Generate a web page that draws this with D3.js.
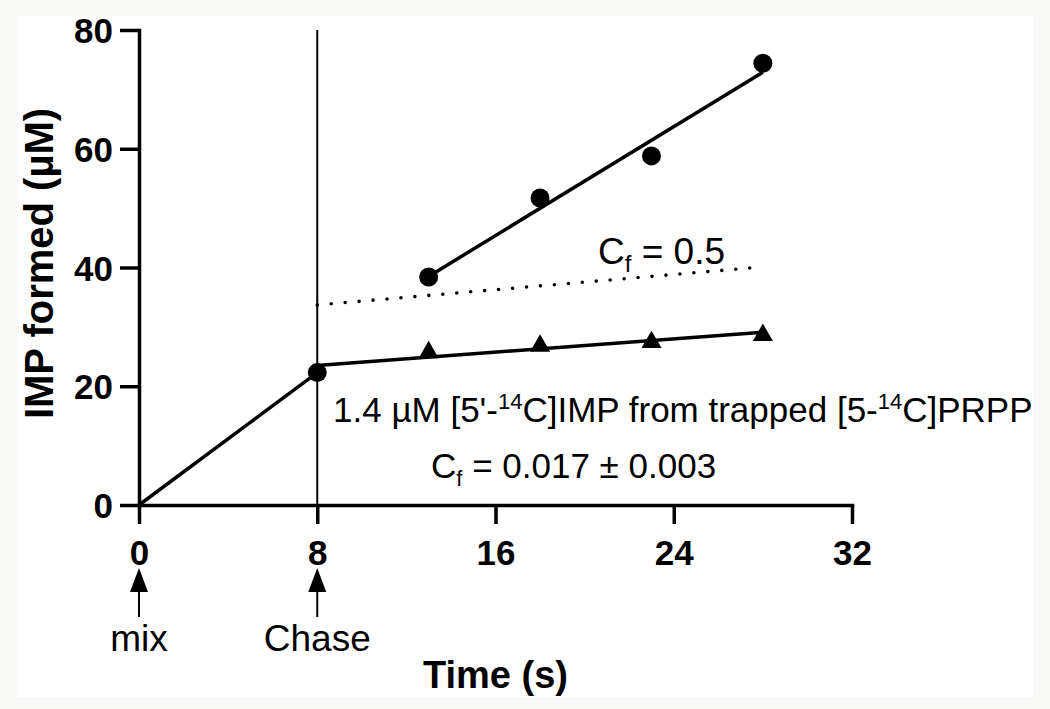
<!DOCTYPE html>
<html>
<head>
<meta charset="utf-8">
<script src="https://cdn.jsdelivr.net/npm/d3@7"></script>
<style>
  html, body { margin: 0; padding: 0; background: #f8f8f6; }
  svg { display: block; }
  text { font-family: "Liberation Sans", Arial, Helvetica, sans-serif; fill: #000; }
</style>
</head>
<body>
<svg id="chart" width="1050" height="709"></svg>
<script>
// ---- data ----
const xTicks = [0, 8, 16, 24, 32];
const yTicks = [0, 20, 40, 60, 80];
// IMP formed (circles): pre-chase and after chase
const circleTime = [8, 13, 18, 23, 28];
const circleIMP  = [22.3, 38.4, 51.7, 58.8, 74.4];
// triangles: after chase
const triTime = [13, 18, 23, 28];
const triIMP  = [25.7, 26.8, 27.4, 28.6];
// drawn lines
const mixLine    = [[0, 0], [8, 22.3]];
const upperFit   = [[13, 38.5], [28, 72.9]];
const lowerFit   = [[8, 23.5], [28, 29.1]];
const cfHalfLine = [[8, 33.7], [28, 40.1]];
const chaseTime = 8;
const markers = [{t: 0, label: "mix"}, {t: 8, label: "Chase"}];

const svg = d3.select("#chart");
// inner white panel (image frame)
svg.append("rect").attr("x", 18).attr("y", 16).attr("width", 1015).attr("height", 681).attr("fill", "#ffffff");

const x = d3.scaleLinear().domain([0, 32]).range([139, 852]);
const y = d3.scaleLinear().domain([0, 80]).range([505, 30]);
const line = d3.line().x(d => x(d[0])).y(d => y(d[1]));

// vertical chase line
svg.append("line")
  .attr("x1", x(chaseTime)).attr("x2", x(chaseTime))
  .attr("y1", y(80)).attr("y2", y(0))
  .attr("stroke", "#000").attr("stroke-width", 2);

// axes
const yAxis = d3.axisLeft(y).tickValues(yTicks).tickSize(19).tickPadding(7).tickSizeOuter(0);
const xAxis = d3.axisBottom(x).tickValues(xTicks).tickSize(19).tickPadding(16).tickSizeOuter(0);

const gy = svg.append("g").attr("transform", `translate(${x(0)},0)`).call(yAxis);
const gx = svg.append("g").attr("transform", `translate(0,${y(0)})`).call(xAxis);
[gx, gy].forEach(g => {
  g.select(".domain").attr("stroke", "#000").attr("stroke-width", 3.5).attr("stroke-linecap", "square");
  g.selectAll(".tick line").attr("stroke", "#000").attr("stroke-width", 3.5);
  g.selectAll(".tick text")
    .attr("font-family", "Liberation Sans, Arial, sans-serif")
    .attr("font-size", 35).attr("font-weight", "bold").attr("fill", "#000");
});
gy.selectAll(".tick text").attr("dy", "0.36em");

// lines
svg.append("path").datum(mixLine).attr("d", line).attr("fill", "none").attr("stroke", "#000").attr("stroke-width", 3.5);
svg.append("path").datum(upperFit).attr("d", line).attr("fill", "none").attr("stroke", "#000").attr("stroke-width", 3.5);
svg.append("path").datum(lowerFit).attr("d", line).attr("fill", "none").attr("stroke", "#000").attr("stroke-width", 3.5);
svg.append("path").datum(cfHalfLine).attr("d", line).attr("fill", "none").attr("stroke", "#000")
  .attr("stroke-width", 3.6).attr("stroke-linecap", "round").attr("stroke-dasharray", "0,14");

// circles
svg.selectAll("circle.pt").data(circleTime.map((t, i) => [t, circleIMP[i]])).enter()
  .append("circle").attr("class", "pt")
  .attr("cx", d => x(d[0])).attr("cy", d => y(d[1])).attr("r", 9.5).attr("fill", "#000");

// triangles
const tri = d3.symbol().type(d3.symbolTriangle).size(175);
svg.selectAll("path.tri").data(triTime.map((t, i) => [t, triIMP[i]])).enter()
  .append("path").attr("class", "tri")
  .attr("transform", d => `translate(${x(d[0])},${y(d[1])})`)
  .attr("d", tri).attr("fill", "#000");

// axis titles
svg.append("text").attr("transform", `translate(53,${(y(0) + y(80)) / 2 - 4}) rotate(-90)`)
  .attr("text-anchor", "middle").attr("font-size", 40).attr("font-weight", "bold")
  .text("IMP formed (µM)");
svg.append("text").attr("x", x(16)).attr("y", 688)
  .attr("text-anchor", "middle").attr("font-size", 38).attr("font-weight", "bold")
  .text("Time (s)");

// mix / chase arrows
const mk = svg.selectAll("g.mk").data(markers).enter().append("g").attr("class", "mk")
  .attr("transform", d => `translate(${x(d.t)},0)`);
mk.append("line").attr("x1", 0).attr("x2", 0).attr("y1", 588).attr("y2", 617).attr("stroke", "#000").attr("stroke-width", 2);
mk.append("path").attr("d", "M0,568 L9,592 L-9,592 Z").attr("fill", "#000");
mk.append("text").attr("x", 0).attr("y", 651).attr("text-anchor", "middle").attr("font-size", 37).text(d => d.label);

// annotations
const t1 = svg.append("text").attr("x", 333).attr("y", 422).attr("font-size", 35);
t1.append("tspan").text("1.4 µM [5'-");
t1.append("tspan").attr("font-size", 22).attr("dy", -13).text("14");
t1.append("tspan").attr("dy", 13).text("C]IMP from trapped [5-");
t1.append("tspan").attr("font-size", 22).attr("dy", -13).text("14");
t1.append("tspan").attr("dy", 13).text("C]PRPP");

const t2 = svg.append("text").attr("x", 431).attr("y", 478).attr("font-size", 35);
t2.append("tspan").text("C");
t2.append("tspan").attr("font-size", 22).attr("dy", 8).text("f");
t2.append("tspan").attr("dy", -8).text(" = 0.017 ± 0.003");

const t3 = svg.append("text").attr("x", 598).attr("y", 264).attr("font-size", 37);
t3.append("tspan").text("C");
t3.append("tspan").attr("font-size", 24).attr("dy", 8).text("f");
t3.append("tspan").attr("dy", -8).text(" = 0.5");
</script>
</body>
</html>
